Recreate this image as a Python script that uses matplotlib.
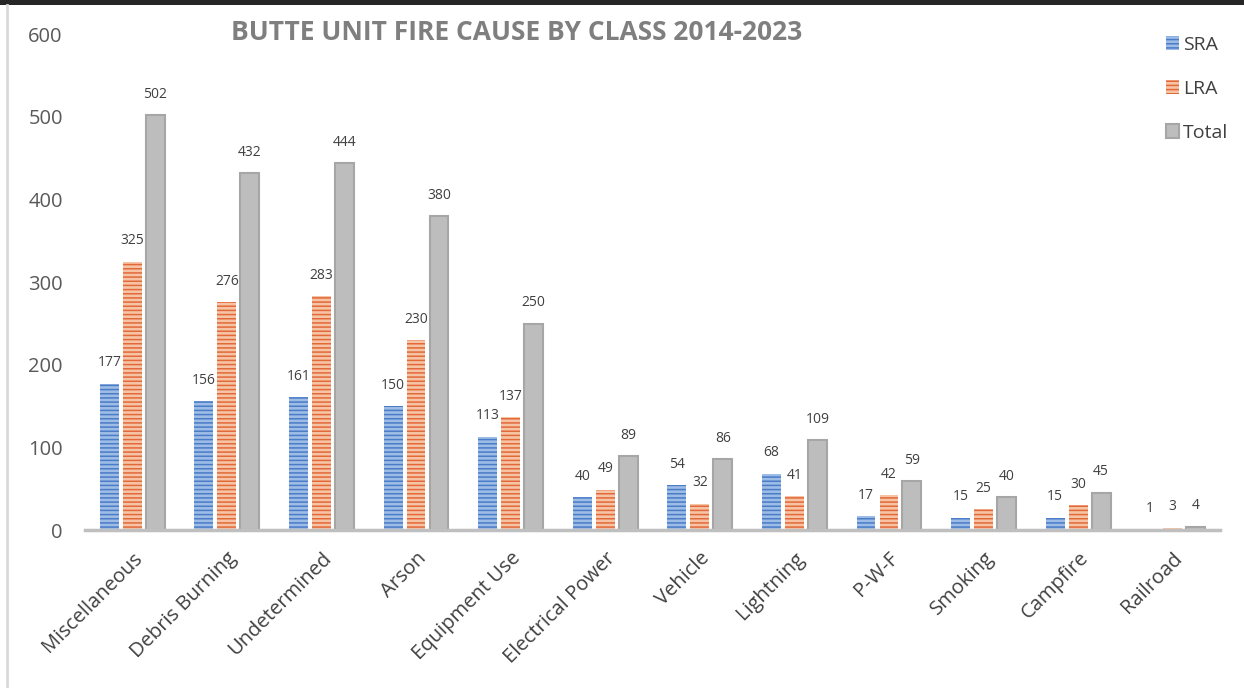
import matplotlib
matplotlib.use("Agg")
import matplotlib.pyplot as plt
import numpy as np
from matplotlib.patches import Rectangle
from matplotlib.lines import Line2D

categories = ["Miscellaneous", "Debris Burning", "Undetermined", "Arson", "Equipment Use",
              "Electrical Power", "Vehicle", "Lightning", "P-W-F", "Smoking", "Campfire", "Railroad"]
sra = [177, 156, 161, 150, 113, 40, 54, 68, 17, 15, 15, 1]
lra = [325, 276, 283, 230, 137, 49, 32, 41, 42, 25, 30, 3]
total = [502, 432, 444, 380, 250, 89, 86, 109, 59, 40, 45, 4]
yticks = [0, 100, 200, 300, 400, 500, 600]
title = "BUTTE UNIT FIRE CAUSE BY CLASS 2014-2023"

plt.rcParams['font.family'] = ['Open Sans', 'DejaVu Sans']
plt.rcParams['hatch.linewidth'] = 1.1

fig = plt.figure(figsize=(12.44, 6.88), dpi=100)
ax = fig.add_axes([85/1244, 1-530/688, (1220-85)/1244, (530-34.4)/688])

x = np.arange(len(categories))
w = 0.2
off = 0.243

b1 = ax.bar(x - off, sra, w, color='#9DBDE6', edgecolor='#4A7CC8', hatch='----', linewidth=0)
b2 = ax.bar(x, lra, w, color='#F6C4A4', edgecolor='#E2693A', hatch='----', linewidth=0)
b3 = ax.bar(x + off, total, w, color='#BDBDBD', edgecolor='#A6A6A6', linewidth=1.5)

for bars, vals in ((b1, sra), (b2, lra), (b3, total)):
    for r, v in zip(bars, vals):
        ax.annotate(str(v), (r.get_x() + r.get_width()/2, v), xytext=(0, 15),
                    textcoords='offset points', ha='center', va='center',
                    fontsize=10, color='#404040')

ax.set_xlim(-0.5, len(categories) - 0.5)
ax.set_ylim(0, 600)
ax.set_yticks(yticks)
ax.set_yticklabels([str(t) for t in yticks], fontsize=14.5, color='#595959')
ax.set_xticks(x)
ax.set_xticklabels(categories, rotation=45, ha='right', rotation_mode='anchor',
                   fontsize=14.5, color='#404040')
ax.tick_params(axis='both', length=0)
ax.tick_params(axis='y', pad=16)
ax.tick_params(axis='x', pad=13)
for s in ('top', 'right', 'left'):
    ax.spines[s].set_visible(False)
ax.spines['bottom'].set_color('#BFBFBF')
ax.spines['bottom'].set_linewidth(2.5)

fig.text(517/1244, 1-33/688, title, ha='center', va='center', fontsize=19,
         fontweight='bold', color='#7F7F7F')

handles = [Rectangle((0, 0), 1, 1, facecolor='#9DBDE6', edgecolor='#4A7CC8', hatch='----', linewidth=0),
           Rectangle((0, 0), 1, 1, facecolor='#F6C4A4', edgecolor='#E2693A', hatch='----', linewidth=0),
           Rectangle((0, 0), 1, 1, facecolor='#BDBDBD', edgecolor='#A6A6A6', linewidth=1.5)]
leg = fig.legend(handles, ['SRA', 'LRA', 'Total'], loc='upper left',
                 bbox_to_anchor=(1148/1244, 1-18/688), frameon=False, fontsize=14,
                 handlelength=0.7, handleheight=0.7, handletextpad=0.2, labelspacing=1.35,
                 labelcolor='#404040')

# frame decorations
fig.add_artist(Rectangle((0, 1-5/688), 1, 5/688, transform=fig.transFigure,
                         facecolor='#262626', edgecolor='none'))
fig.add_artist(Line2D([7/1244, 7/1244], [0, 1-5/688], transform=fig.transFigure,
                      color='#D9D9D9', linewidth=2))

fig.savefig('out.png', dpi=100)
